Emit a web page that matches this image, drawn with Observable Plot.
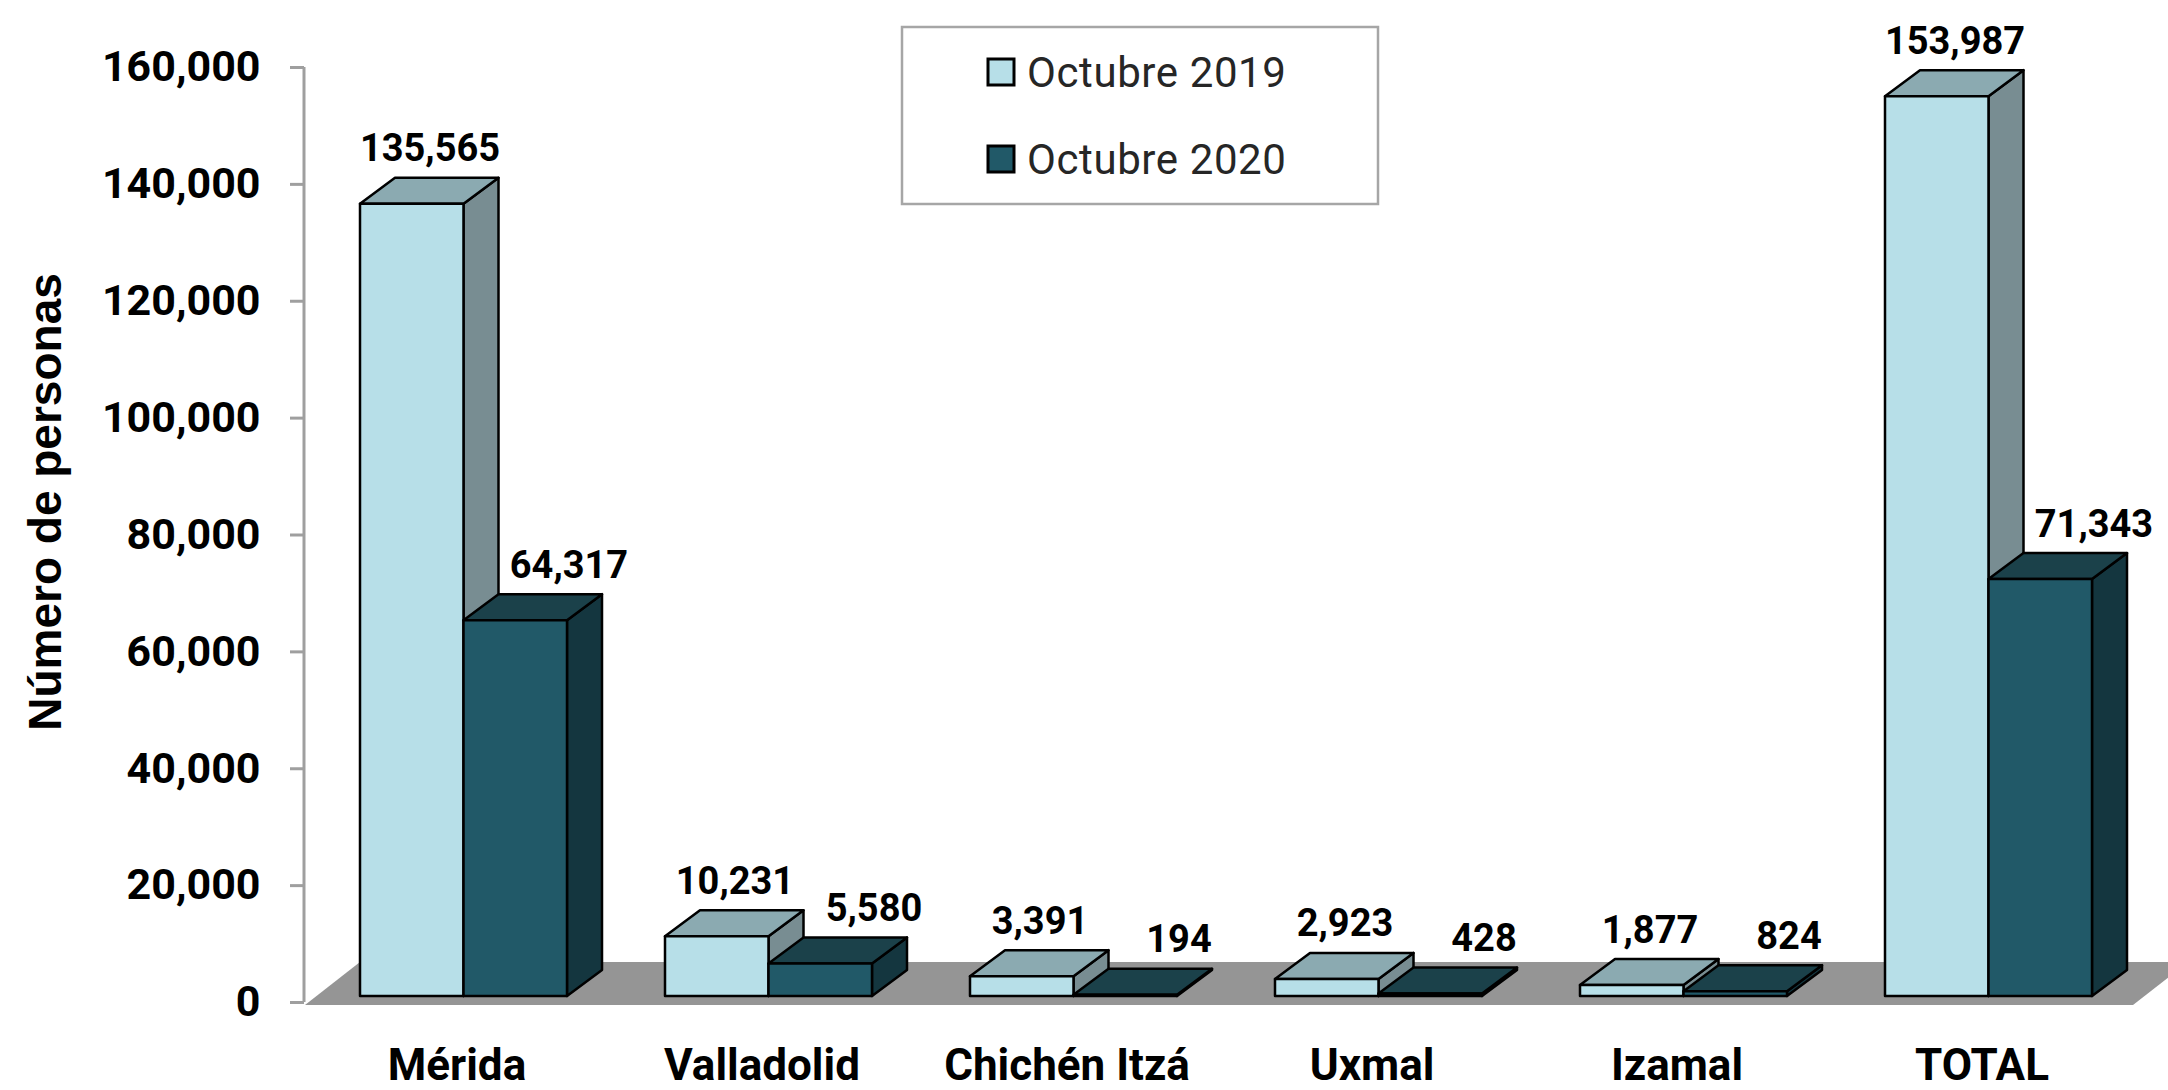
<!DOCTYPE html>
<html>
<head>
<meta charset="utf-8">
<script src="https://cdn.jsdelivr.net/npm/d3@7"></script>
<script src="https://cdn.jsdelivr.net/npm/@observablehq/plot@0.6"></script>
<style>
  html, body { margin: 0; padding: 0; background: #fff; overflow: hidden; }
  #wrap { position: relative; width: 2168px; height: 1090px; }
  #legend { position: absolute; left: 0; top: 0; }
</style>
</head>
<body>
<div id="wrap"></div>
<script>
// ---- data ----
const categories = ["Mérida", "Valladolid", "Chichén Itzá", "Uxmal", "Izamal", "TOTAL"];
const series = ["Octubre 2019", "Octubre 2020"];
const values2019 = [135565, 10231, 3391, 2923, 1877, 153987];
const values2020 = [64317, 5580, 194, 428, 824, 71343];
const yTicks = [0, 20000, 40000, 60000, 80000, 100000, 120000, 140000, 160000];
const yTitle = "Número de personas";

const rows = categories.flatMap((c, i) => [
  {category: c, series: series[0], value: values2019[i]},
  {category: c, series: series[1], value: values2020[i]}
]);

const fmt = d3.format(",");
const frontColors = ["#b7dfe8", "#215968"];
const shade = {
  "Octubre 2019": {top: "#8baab1", side: "#788d92"},
  "Octubre 2020": {top: "#1b414a", side: "#14363f"}
};
const DEPTH_X = 35, DEPTH_Y = -26, LIFT = 6;
const X_RANGE = [311.5, 2141.5];

function bars3d(index, scales, values, dim) {
  const x = scales.x, y = scales.y, color = scales.color;
  let bw;
  if (typeof x.bandwidth === "function") bw = x.bandwidth();
  else bw = d3.scaleBand(categories, X_RANGE).paddingInner(0.32).paddingOuter(0.16).bandwidth();
  const half = bw / 2;
  const g = d3.create("svg:g");
  const y0 = y(0);
  const L = dim.marginLeft, R = dim.width - dim.marginRight;
  // floor
  g.append("path")
    .attr("d", `M${L + 1},${y0 + 3}H${R}L${R + 55},${y0 - 40}H${L + 56}Z`)
    .attr("fill", "#959595");
  // value axis line
  g.append("line")
    .attr("x1", L).attr("x2", L)
    .attr("y1", y(yTicks[yTicks.length - 1])).attr("y2", y0)
    .attr("stroke", "#9f9f9f").attr("stroke-width", 3);
  for (const i of index) {
    const r = rows[i];
    const k = series.indexOf(r.series);
    const x0 = x(r.category) + k * half, x1 = x0 + half;
    const yb = y0 - LIFT, yt = y(r.value) - LIFT;
    const st = sel => sel.attr("stroke", "#000").attr("stroke-width", 2.5).attr("stroke-linejoin", "round");
    g.append("path")
      .attr("d", `M${x1},${yt}L${x1 + DEPTH_X},${yt + DEPTH_Y}V${yb + DEPTH_Y}L${x1},${yb}Z`)
      .attr("fill", shade[r.series].side).call(st);
    g.append("path")
      .attr("d", `M${x0},${yt}H${x1}L${x1 + DEPTH_X},${yt + DEPTH_Y}H${x0 + DEPTH_X}Z`)
      .attr("fill", shade[r.series].top).call(st);
    g.append("rect")
      .attr("x", x0).attr("y", yt).attr("width", half).attr("height", Math.max(0, yb - yt))
      .attr("fill", color(r.series)).call(st);
  }
  return g.node();
}

const chart = Plot.plot({
  width: 2168,
  height: 1090,
  marginLeft: 304,
  marginRight: 35,
  marginTop: 67,
  marginBottom: 88,
  x: {type: "band", domain: categories, range: X_RANGE, paddingInner: 0.32, paddingOuter: 0.16, align: 0.5},
  y: {domain: [0, 160000], range: [1002, 67]},
  color: {domain: series, range: frontColors},
  style: {fontFamily: "Roboto", fontWeight: "bold", color: "#000", background: "#fff"},
  marks: [
    Plot.barY(rows, {x: "category", y: "value", fill: "series", render: bars3d}),
    Plot.text(rows.filter(d => d.series === series[0]), {
      x: "category", y: "value", text: d => fmt(d.value),
      dx: -34, dy: -49, lineAnchor: "bottom", fontSize: 38, fontWeight: "bold", fill: "#000"
    }),
    Plot.text(rows.filter(d => d.series === series[1]), {
      x: "category", y: "value", text: d => fmt(d.value),
      dx: 105, dy: -49, lineAnchor: "bottom", fontSize: 38, fontWeight: "bold", fill: "#000"
    }),
    Plot.axisY({
      ticks: yTicks, tickFormat: fmt, tickSize: 14, tickPadding: 30,
      fontSize: 43, fontWeight: "bold", stroke: "#9f9f9f", strokeWidth: 3, fill: "#000", label: null
    }),
    Plot.axisX({tickSize: 0, tickPadding: 46, fontSize: 44, fontWeight: "bold", dx: -7, fill: "#000", label: null}),
    Plot.text([yTitle], {
      frameAnchor: "left", textAnchor: "middle", rotate: -90, dx: -258, dy: -33,
      fontSize: 46, fontFamily: "Liberation Sans", fontWeight: "bold", fill: "#000"
    })
  ]
});

const wrap = document.getElementById("wrap");
wrap.appendChild(chart);

// ---- legend (overlay inside the plot area, as in the reference) ----
const leg = d3.select(wrap).append("svg")
  .attr("id", "legend")
  .attr("width", 2168).attr("height", 240)
  .style("pointer-events", "none");
leg.append("rect")
  .attr("x", 902).attr("y", 27).attr("width", 476).attr("height", 177)
  .attr("fill", "#fff").attr("stroke", "#a6a6a6").attr("stroke-width", 2.5);
const rowY = [87, 174];
series.forEach((s, i) => {
  leg.append("rect")
    .attr("x", 988).attr("y", rowY[i] - 28).attr("width", 26).attr("height", 26)
    .attr("fill", frontColors[i]).attr("stroke", "#000").attr("stroke-width", 3);
  leg.append("text")
    .attr("x", 1027).attr("y", rowY[i])
    .attr("font-family", "Roboto").attr("font-size", 42).attr("fill", "#262626")
    .attr("letter-spacing", 0.6)
    .text(s);
});
</script>
</body>
</html>
